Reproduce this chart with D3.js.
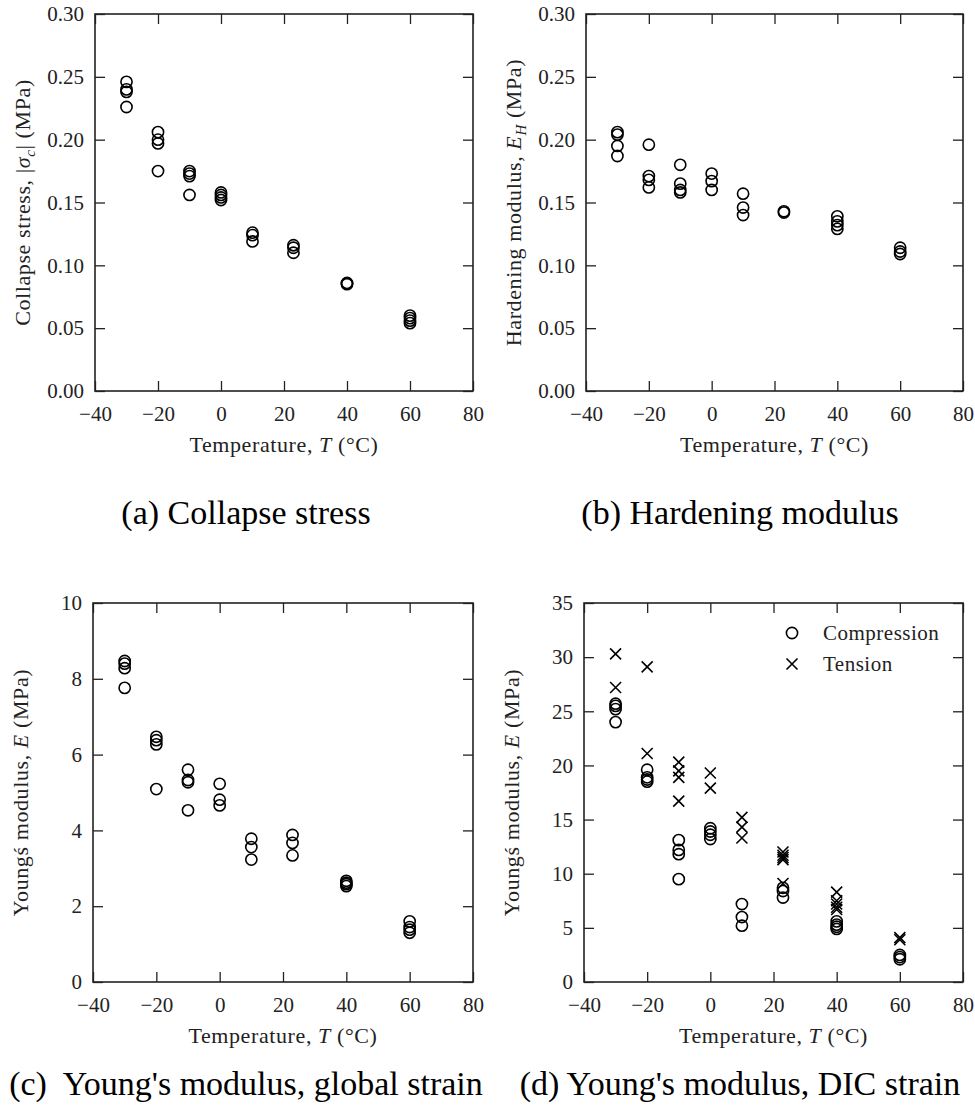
<!DOCTYPE html>
<html lang="en">
<head>
  <meta charset="utf-8">
  <title>properties vs temperature</title>
  <script src="https://cdn.jsdelivr.net/npm/d3@7"></script>
</head>
<body style="margin:0; background:#fff">
<svg id="fig" width="975" height="1115"></svg>
<script>
  // test temperatures (°C); every series below has one list per temperature
  const temps = [-30, -20, -10, 0, 10, 23, 40, 60];

  const collapseStress = [
    [0.246, 0.240, 0.238, 0.226],
    [0.206, 0.200, 0.197, 0.175],
    [0.175, 0.173, 0.171, 0.156],
    [0.158, 0.156, 0.154, 0.152],
    [0.126, 0.124, 0.119],
    [0.116, 0.114, 0.110],
    [0.086, 0.0855, 0.085],
    [0.060, 0.058, 0.056, 0.054]
  ];

  const hardeningModulus = [
    [0.206, 0.204, 0.195, 0.187],
    [0.196, 0.171, 0.168, 0.162],
    [0.180, 0.165, 0.160, 0.158],
    [0.173, 0.167, 0.160],
    [0.157, 0.146, 0.140],
    [0.143, 0.142],
    [0.139, 0.135, 0.132, 0.129],
    [0.114, 0.111, 0.109]
  ];

  const youngsGlobal = [
    [8.47, 8.40, 8.28, 7.76],
    [6.47, 6.38, 6.27, 5.09],
    [5.60, 5.33, 5.27, 4.53],
    [5.23, 4.81, 4.66],
    [3.78, 3.56, 3.23],
    [3.88, 3.67, 3.34],
    [2.67, 2.62, 2.58, 2.53],
    [1.60, 1.45, 1.38, 1.30]
  ];

  const dicCompression = [
    [25.7, 25.5, 25.2, 24.0],
    [19.6, 18.9, 18.7, 18.5],
    [13.1, 12.2, 11.8, 9.5],
    [14.2, 13.9, 13.6, 13.2],
    [7.2, 6.0, 5.2],
    [8.7, 8.4, 7.8],
    [5.6, 5.3, 5.1, 4.9],
    [2.5, 2.3, 2.1]
  ];

  const dicTension = [
    [30.3, 27.2],
    [29.1, 21.1],
    [20.3, 19.5, 18.9, 16.7],
    [19.3, 17.9],
    [15.2, 14.3, 13.3],
    [12.0, 11.7, 11.5, 11.3, 9.1],
    [8.3, 7.5, 7.2, 6.9, 6.7],
    [4.1, 3.9]
  ];

  // tick labels
  const xTicks = [-40, -20, 0, 20, 40, 60, 80];
  const yTicksMPa = [0, 0.05, 0.10, 0.15, 0.20, 0.25, 0.30];
  const yTicksGlobal = [0, 2, 4, 6, 8, 10];
  const yTicksDIC = [0, 5, 10, 15, 20, 25, 30, 35];

  const legendLabels = ["Compression", "Tension"];

  const serif = '"Liberation Serif"';
  const svg = d3.select("#fig");

  function circles(g, x, y, series) {
    temps.forEach(function (t, i) {
      g.selectAll(null)
        .data(series[i])
        .enter().append("circle")
        .attr("cx", x(t))
        .attr("cy", d => y(d))
        .attr("r", 5.6)
        .attr("fill", "none")
        .attr("stroke", "#000")
        .attr("stroke-width", 1.6);
    });
  }

  function crosses(g, x, y, series) {
    const s = 5.5;
    temps.forEach(function (t, i) {
      g.selectAll(null)
        .data(series[i])
        .enter().append("path")
        .attr("d", d => {
          const cx = x(t), cy = y(d);
          return `M${cx - s},${cy - s}L${cx + s},${cy + s}M${cx - s},${cy + s}L${cx + s},${cy - s}`;
        })
        .attr("stroke", "#000")
        .attr("stroke-width", 1.6)
        .attr("fill", "none");
    });
  }

  function drawPanel(p) {
    const g = svg.append("g");
    const x = d3.scaleLinear().domain([-40, 80]).range([p.left, p.left + p.w]);
    const y = d3.scaleLinear().domain([0, p.ymax]).range([p.top + p.h, p.top]);

    // ticks point inward on all four sides
    g.append("g")
      .attr("transform", `translate(0,${p.top + p.h})`)
      .call(d3.axisBottom(x).tickValues(xTicks).tickSize(-10).tickPadding(15).tickFormat(d3.format("d")));
    g.append("g")
      .attr("transform", `translate(0,${p.top})`)
      .call(d3.axisTop(x).tickValues(xTicks).tickSize(-10).tickFormat(""));
    g.append("g")
      .attr("transform", `translate(${p.left},0)`)
      .call(d3.axisLeft(y).tickValues(p.yTicks).tickSize(-10).tickPadding(11).tickFormat(d3.format(p.fmt)));
    g.append("g")
      .attr("transform", `translate(${p.left + p.w},0)`)
      .call(d3.axisRight(y).tickValues(p.yTicks).tickSize(-10).tickFormat(""));

    g.selectAll(".domain").remove();
    g.selectAll(".tick line").attr("stroke", "#222").attr("stroke-width", 1.3);
    g.selectAll(".tick text").attr("fill", "#222").style("font-size", "21px");

    g.append("rect")
      .attr("x", p.left).attr("y", p.top)
      .attr("width", p.w).attr("height", p.h)
      .attr("fill", "none").attr("stroke", "#222").attr("stroke-width", 1.6);

    // x label
    const xl = g.append("text")
      .attr("x", p.left + p.w / 2)
      .attr("y", p.top + p.h + 61)
      .attr("text-anchor", "middle")
      .attr("fill", "#222")
      .style("font-size", "22px")
      .style("letter-spacing", "0.6px");
    xl.append("tspan").text("Temperature, ");
    xl.append("tspan").attr("font-style", "italic").text("T");
    xl.append("tspan").text(" (°C)");

    // y label
    const yl = g.append("text")
      .attr("transform", `translate(${p.left - 65},${p.top + p.h / 2}) rotate(-90)`)
      .attr("text-anchor", "middle")
      .attr("fill", "#222")
      .style("font-size", "22px")
      .style("letter-spacing", "0.6px");
    p.ylabel.forEach(function (part) {
      const ts = yl.append("tspan").text(part.t);
      if (part.i) ts.attr("font-style", "italic");
      if (part.sub) ts.style("font-size", "15px").attr("dy", "5");
      if (part.up) ts.attr("dy", "-5");
    });

    // caption
    svg.append("text")
      .attr("x", p.capX)
      .attr("y", p.capY)
      .attr("text-anchor", "middle")
      .attr("fill", "#000")
      .style("font-size", "34px")
      .style("white-space", "pre")
      .text(p.caption);

    return { g: g, x: x, y: y };
  }

  // (a)
  const a = drawPanel({
    left: 95, top: 14, w: 378, h: 377, ymax: 0.30, yTicks: yTicksMPa, fmt: ".2f",
    ylabel: [{ t: "Collapse stress, |" }, { t: "σ", i: true }, { t: "c", i: true, sub: true }, { t: "| (MPa)", up: true }],
    caption: "(a) Collapse stress", capX: 246, capY: 524
  });
  circles(a.g, a.x, a.y, collapseStress);

  // (b)
  const b = drawPanel({
    left: 586, top: 14, w: 377, h: 377, ymax: 0.30, yTicks: yTicksMPa, fmt: ".2f",
    ylabel: [{ t: "Hardening modulus, " }, { t: "E", i: true }, { t: "H", i: true, sub: true }, { t: " (MPa)", up: true }],
    caption: "(b) Hardening modulus", capX: 740, capY: 524
  });
  circles(b.g, b.x, b.y, hardeningModulus);

  // (c)
  const c = drawPanel({
    left: 93, top: 603, w: 380, h: 379, ymax: 10, yTicks: yTicksGlobal, fmt: "d",
    ylabel: [{ t: "Youngś modulus, " }, { t: "E", i: true }, { t: " (MPa)" }],
    caption: "(c)  Young's modulus, global strain", capX: 246, capY: 1095
  });
  circles(c.g, c.x, c.y, youngsGlobal);

  // (d)
  const d = drawPanel({
    left: 584, top: 603, w: 379, h: 379, ymax: 35, yTicks: yTicksDIC, fmt: "d",
    ylabel: [{ t: "Youngś modulus, " }, { t: "E", i: true }, { t: " (MPa)" }],
    caption: "(d) Young's modulus, DIC strain", capX: 740, capY: 1095
  });
  circles(d.g, d.x, d.y, dicCompression);
  crosses(d.g, d.x, d.y, dicTension);

  // legend for (d)
  const lg = d.g.append("g");
  lg.append("circle")
    .attr("cx", 792).attr("cy", 633).attr("r", 5.6)
    .attr("fill", "none").attr("stroke", "#000").attr("stroke-width", 1.6);
  lg.append("path")
    .attr("d", "M786.5,658.5L797.5,669.5M786.5,669.5L797.5,658.5")
    .attr("stroke", "#000").attr("stroke-width", 1.6);
  lg.selectAll("text")
    .data(legendLabels)
    .enter().append("text")
    .attr("x", 823)
    .attr("y", (t, i) => 640 + i * 31)
    .attr("fill", "#222")
    .style("font-size", "21px")
    .style("letter-spacing", "0.5px")
    .text(t => t);

  // one serif face for every label, set inline so nothing overrides it
  svg.selectAll("g").attr("font-family", null);
  svg.selectAll("text").style("font-family", serif);
</script>
</body>
</html>
